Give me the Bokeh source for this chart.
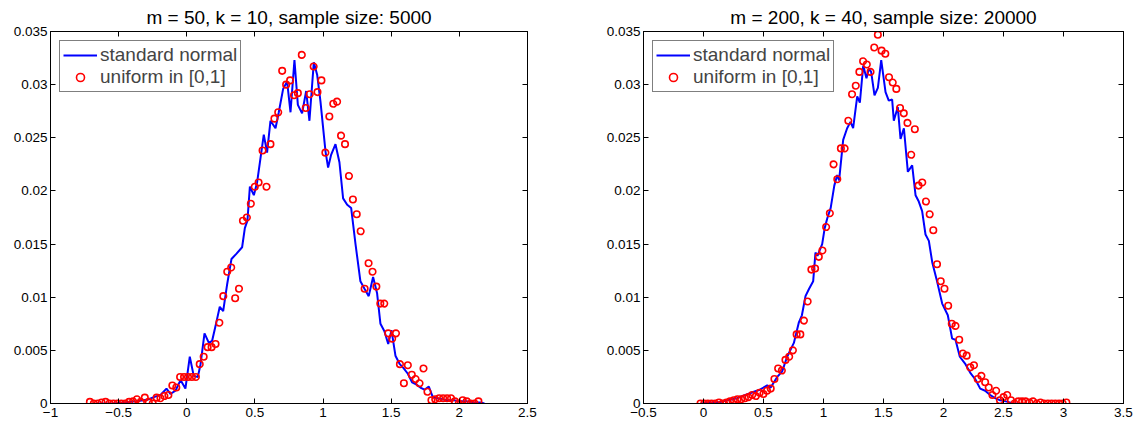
from bokeh.plotting import figure
from bokeh.models import (Range1d, FixedTicker, LinearAxis, CustomJSTickFormatter,
                          Legend, LegendItem)
from bokeh.layouts import row
from bokeh.embed import file_html
from bokeh.resources import INLINE

# ---------------- data ----------------
titles = ["m = 50, k = 10, sample size: 5000", "m = 200, k = 40, sample size: 20000"]
legend_labels = ["standard normal", "uniform in [0,1]"]
y_ticks = [0, 0.005, 0.01, 0.015, 0.02, 0.025, 0.03, 0.035]
x_ticks_1 = [-1, -0.5, 0, 0.5, 1, 1.5, 2, 2.5]
x_ticks_2 = [-0.5, 0, 0.5, 1, 1.5, 2, 2.5, 3, 3.5]

# left panel: uniform-based (red circles)
red1_x = [-0.711, -0.682, -0.653, -0.625, -0.596, -0.567, -0.538, -0.509, -0.481, -0.452,
          -0.423, -0.394, -0.365, -0.337, -0.308, -0.279, -0.250, -0.221, -0.193, -0.164,
          -0.135, -0.106, -0.077, -0.049, -0.020, 0.009, 0.038, 0.067, 0.095, 0.124,
          0.153, 0.182, 0.211, 0.239, 0.268, 0.297, 0.326, 0.355, 0.383, 0.412,
          0.441, 0.470, 0.499, 0.527, 0.556, 0.585, 0.614, 0.643, 0.671, 0.700,
          0.729, 0.758, 0.787, 0.815, 0.844, 0.873, 0.902, 0.931, 0.959, 0.988,
          1.017, 1.046, 1.075, 1.103, 1.132, 1.161, 1.190, 1.219, 1.247, 1.276,
          1.305, 1.334, 1.363, 1.391, 1.420, 1.449, 1.478, 1.507, 1.535, 1.564,
          1.593, 1.622, 1.651, 1.679, 1.708, 1.737, 1.766, 1.795, 1.823, 1.852,
          1.881, 1.910, 1.939, 1.967, 1.996, 2.025, 2.054, 2.083, 2.111, 2.140]
red1_y = [0.00015, 0, 0, 0.0001, 0.00015, 0, 0, 0, 0, 0,
          0.00015, 0.0002, 0.0004, 0.00015, 0.00055, 0.00015, 0, 0.00055, 0.0005, 0.0007,
          0.0008, 0.0017, 0.0015, 0.0025, 0.0025, 0.0025, 0.0025, 0.0025, 0.0037, 0.0044,
          0.0053, 0.0053, 0.0056, 0.0076, 0.0101, 0.0124, 0.0128, 0.0099, 0.0108, 0.0172,
          0.0175, 0.0188, 0.0204, 0.0208, 0.0238, 0.0204, 0.0244, 0.0268, 0.0274, 0.0313,
          0.0300, 0.0304, 0.0290, 0.0292, 0.0328, 0.0278, 0.0291, 0.0317, 0.0293, 0.0304,
          0.0236, 0.0270, 0.0282, 0.0284, 0.0252, 0.0244, 0.0214, 0.0192, 0.0178, 0.0162,
          0.0108, 0.0132, 0.0124, 0.0110, 0.0094, 0.0094, 0.0066, 0.0061, 0.0066, 0.0037,
          0.0019, 0.0036, 0.0027, 0.0023, 0.0019, 0.0033, 0.0011, 0.0003, 0.0004, 0.0005,
          0.0005, 0.0005, 0.0005, 0.0002, 0, 0.0003, 0.0002, 0, 0, 0.0002]

# left panel: normal-based (blue line)
blue1_x = [-0.66, -0.55, -0.45, -0.38, -0.315, -0.278, -0.242, -0.193, -0.149, -0.120,
           -0.083, -0.046, -0.010, 0.022, 0.051, 0.081, 0.101, 0.130, 0.162, 0.186,
           0.218, 0.242, 0.267, 0.296, 0.328, 0.365, 0.406, 0.426, 0.445, 0.463,
           0.492, 0.516, 0.565, 0.589, 0.614, 0.651, 0.675, 0.707, 0.736, 0.761,
           0.790, 0.815, 0.846, 0.876, 0.900, 0.932, 0.957, 0.981, 1.018, 1.037,
           1.059, 1.091, 1.120, 1.147, 1.177, 1.206, 1.238, 1.274, 1.304, 1.335,
           1.367, 1.396, 1.421, 1.450, 1.478, 1.502, 1.531, 1.563, 1.592, 1.622,
           1.653, 1.683, 1.714, 1.744, 1.776, 1.805, 1.837, 1.874, 1.910, 1.959,
           2.008, 2.057, 2.106, 2.155, 2.184]
blue1_y = [0, 0, 0.0001, 0.0002, 0.0003, 0.0004, 0.0006, 0.0008, 0.0014, 0.0009,
           0.0012, 0.0022, 0.0014, 0.0044, 0.0026, 0.0025, 0.0037, 0.0066, 0.0057, 0.0059,
           0.0077, 0.0091, 0.0087, 0.0112, 0.0136, 0.0141, 0.0147, 0.0165, 0.0172, 0.0204,
           0.0196, 0.0208, 0.0253, 0.0236, 0.0266, 0.0259, 0.0274, 0.0296, 0.0303, 0.0274,
           0.0323, 0.0281, 0.0273, 0.0294, 0.0266, 0.0321, 0.0309, 0.0284, 0.0237, 0.0222,
           0.0234, 0.0244, 0.0227, 0.0193, 0.0187, 0.0184, 0.0150, 0.0115, 0.0108, 0.0101,
           0.0119, 0.0104, 0.0075, 0.0068, 0.0056, 0.0069, 0.0045, 0.0037, 0.0033, 0.0028,
           0.0020, 0.0018, 0.0015, 0.0013, 0.0016, 0.0006, 0.0005, 0.0004, 0.0003, 0.0003,
           0.0002, 0.0002, 0.0001, 0.0001, 0]

# right panel: uniform-based (red circles)
red2_x = [-0.025, 0.006, 0.037, 0.067, 0.098, 0.129, 0.160, 0.191, 0.221, 0.252,
          0.283, 0.314, 0.345, 0.375, 0.406, 0.437, 0.468, 0.499, 0.529, 0.560,
          0.591, 0.622, 0.653, 0.683, 0.714, 0.745, 0.776, 0.807, 0.837, 0.868,
          0.899, 0.930, 0.961, 0.991, 1.022, 1.053, 1.084, 1.115, 1.145, 1.176,
          1.207, 1.238, 1.269, 1.299, 1.330, 1.361, 1.392, 1.423, 1.453, 1.484,
          1.515, 1.546, 1.577, 1.607, 1.638, 1.669, 1.700, 1.731, 1.761, 1.792,
          1.823, 1.854, 1.885, 1.915, 1.946, 1.977, 2.008, 2.039, 2.069, 2.100,
          2.131, 2.162, 2.193, 2.223, 2.254, 2.285, 2.316, 2.347, 2.377, 2.408,
          2.439, 2.470, 2.501, 2.531, 2.562, 2.593, 2.624, 2.655, 2.685, 2.716,
          2.747, 2.778, 2.809, 2.839, 2.870, 2.901, 2.932, 2.963, 2.993, 3.024]
red2_y = [0, 0, 0, 0, 0, 0.0001, 0, 0.0001, 0.0002, 0.0003,
          0.0004, 0.0004, 0.0005, 0.0006, 0.0008, 0.0007, 0.0010, 0.0009, 0.0012, 0.0014,
          0.0023, 0.0033, 0.0031, 0.0041, 0.0044, 0.0050, 0.0065, 0.0065, 0.0078, 0.0096,
          0.0126, 0.0127, 0.0138, 0.0144, 0.0166, 0.0179, 0.0225, 0.0211, 0.0240, 0.0240,
          0.0266, 0.0291, 0.0299, 0.0312, 0.0322, 0.0319, 0.0312, 0.0335, 0.0347, 0.0332,
          0.0329, 0.0307, 0.0302, 0.0296, 0.0278, 0.0273, 0.0264, 0.0234, 0.0258, 0.0205,
          0.0208, 0.0190, 0.0178, 0.0163, 0.0131, 0.0115, 0.0108, 0.0092, 0.0075, 0.0073,
          0.0060, 0.0047, 0.0045, 0.0034, 0.0036, 0.0023, 0.0026, 0.0020, 0.0015, 0.0008,
          0.0012, 0.0003, 0.0006, 0.0008, 0.0003, 0, 0.0002, 0.0002, 0.0002, 0.0001,
          0.0002, 0, 0.0001, 0, 0, 0, 0, 0, 0, 0.0001]

# right panel: normal-based (blue line)
blue2_x = [-0.02, 0.05, 0.12, 0.20, 0.28, 0.35, 0.42, 0.47, 0.531, 0.56,
           0.614, 0.655, 0.697, 0.753, 0.794, 0.82, 0.850, 0.88, 0.914, 0.933,
           0.95, 0.989, 1.01, 1.031, 1.06, 1.09, 1.114, 1.13, 1.164, 1.197,
           1.225, 1.247, 1.281, 1.303, 1.331, 1.358, 1.378, 1.397, 1.425, 1.453,
           1.481, 1.517, 1.544, 1.572, 1.586, 1.619, 1.642, 1.67, 1.703, 1.739,
           1.767, 1.794, 1.822, 1.850, 1.878, 1.906, 1.942, 1.989, 2.036, 2.072,
           2.10, 2.136, 2.183, 2.228, 2.264, 2.306, 2.347, 2.389, 2.43, 2.472,
           2.52, 2.583, 2.62]
blue2_y = [0, 0.0001, 0.0001, 0.0003, 0.0005, 0.0008, 0.0011, 0.0013, 0.0017, 0.0015,
           0.0025, 0.0030, 0.0044, 0.0057, 0.0076, 0.0083, 0.0101, 0.0108, 0.0115, 0.0142,
           0.0139, 0.0150, 0.0165, 0.0174, 0.0184, 0.0205, 0.0215, 0.0210, 0.0248, 0.0259,
           0.0265, 0.0259, 0.0289, 0.0283, 0.0318, 0.0306, 0.0315, 0.0312, 0.0290, 0.0297,
           0.0323, 0.0293, 0.0285, 0.0286, 0.0266, 0.0279, 0.0249, 0.0259, 0.0218, 0.0224,
           0.0196, 0.0190, 0.0181, 0.0159, 0.0153, 0.0133, 0.0117, 0.0094, 0.0083, 0.0061,
           0.0060, 0.0044, 0.0037, 0.0028, 0.0023, 0.0014, 0.0012, 0.0008, 0.0005, 0.0003,
           0.0002, 0, 0]

# ---------------- plotting ----------------
FONT = "Liberation Sans"

x_fmt = CustomJSTickFormatter(code="var v = Math.round(tick*1000)/1000; return String(v).replace('-', '\\u2212');")
y_fmt = CustomJSTickFormatter(code="return String(Math.round(tick*1000)/1000);")


def blank_axis(ticks):
    return LinearAxis(ticker=FixedTicker(ticks=ticks),
                      formatter=CustomJSTickFormatter(code="return '';"),
                      major_label_text_font_size="0px", major_label_standoff=0,
                      major_tick_in=5, major_tick_out=0, minor_tick_line_color=None,
                      axis_line_color="black", major_tick_line_color="black")


def make(title, xr, xticks, rx, ry, bx, by, width, left, right):
    p = figure(width=width, height=425, x_range=Range1d(*xr), y_range=Range1d(0, 0.035),
               output_backend="svg", toolbar_location=None,
               min_border_left=left, min_border_right=right,
               min_border_top=29, min_border_bottom=22)
    p.title.text = title
    p.title.align = "center"
    p.title.text_font = FONT
    p.title.text_font_size = "19px"
    p.title.text_font_style = "normal"
    p.title.text_color = "black"
    p.title.standoff = 8
    p.xgrid.visible = False
    p.ygrid.visible = False
    p.outline_line_color = "black"
    p.background_fill_color = "white"
    p.border_fill_color = "white"

    for ax, ticks, fmt in ((p.xaxis[0], xticks, x_fmt), (p.yaxis[0], y_ticks, y_fmt)):
        ax.ticker = FixedTicker(ticks=ticks)
        ax.formatter = fmt
        ax.major_tick_in = 5
        ax.major_tick_out = 0
        ax.minor_tick_line_color = None
        ax.axis_line_color = "black"
        ax.major_tick_line_color = "black"
        ax.major_label_text_font = FONT
        ax.major_label_text_font_size = "13.5px"
        ax.major_label_text_color = "black"
    p.xaxis[0].major_label_standoff = 4
    p.yaxis[0].major_label_standoff = 3

    p.add_layout(blank_axis(xticks), "above")
    p.add_layout(blank_axis(y_ticks), "right")

    lr = p.line(bx, by, line_color="#0000FF", line_width=2)
    cr = p.scatter(rx, ry, marker="circle", size=6.5, fill_color=None,
                   line_color="#FF0000", line_width=1.6)

    leg = Legend(items=[LegendItem(label=legend_labels[0], renderers=[lr]),
                        LegendItem(label=legend_labels[1], renderers=[cr])],
                 location="top_left", margin=9, padding=3, spacing=0,
                 glyph_width=34, glyph_height=20, label_height=21, label_standoff=3,
                 label_text_font=FONT, label_text_font_size="19px",
                 border_line_color="black", border_line_width=1,
                 background_fill_color="white", background_fill_alpha=1)
    p.add_layout(leg)
    return p


p1 = make(titles[0], (-1, 2.5), x_ticks_1, red1_x, red1_y, blue1_x, blue1_y, 537, 50, 10)
p2 = make(titles[1], (-0.5, 3.5), x_ticks_2, red2_x, red2_y, blue2_x, blue2_y, 596, 106, 10)

layout = row(p1, p2, spacing=0)
open("out.html", "w").write(file_html(layout, INLINE))
